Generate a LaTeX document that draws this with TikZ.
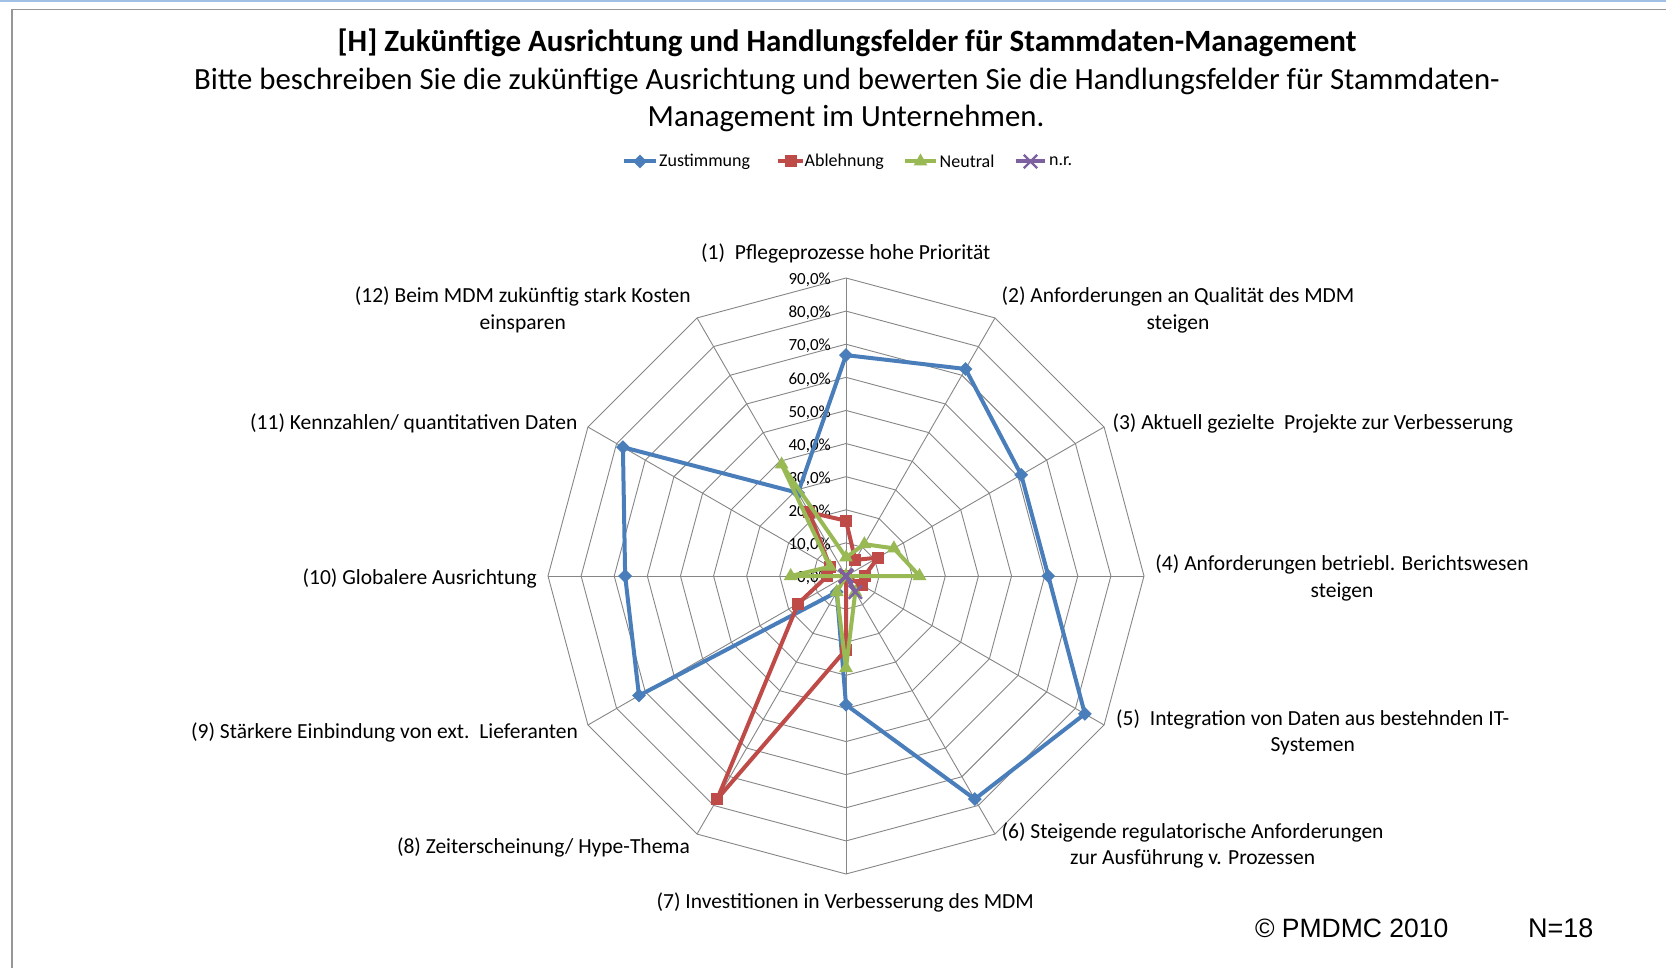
\documentclass[tikz,border=0pt]{standalone}
\usepackage{fontspec}
\setmainfont{Carlito}
\newfontfamily\arialf{Liberation Sans}
\usetikzlibrary{shapes.geometric,shapes.misc}
\definecolor{cblue}{RGB}{74,126,187}
\definecolor{cred}{RGB}{190,75,72}
\definecolor{cgreen}{RGB}{152,185,84}
\definecolor{cpurple}{RGB}{125,96,160}
\definecolor{gridgray}{RGB}{134,134,134}
\definecolor{framegray}{RGB}{150,150,150}
\definecolor{bandblue}{RGB}{160,192,230}
\begin{document}
\begin{tikzpicture}[x=1pt,y=1pt,
  gridline/.style={draw=gridgray, line width=0.9pt},
  bline/.style={draw=cblue, line width=4pt, line join=round},
  rline/.style={draw=cred, line width=4pt, line join=round},
  gline/.style={draw=cgreen, line width=4pt, line join=round},
  pline/.style={draw=cpurple, line width=4pt, line join=round},
  bmark/.style={diamond, fill=cblue, inner sep=0pt, minimum width=14pt, minimum height=14pt},
  rmark/.style={rectangle, fill=cred, inner sep=0pt, minimum size=12pt},
  gmark/.style={regular polygon, regular polygon sides=3, fill=cgreen, inner sep=0pt, minimum size=16pt},
  pmark/.style={cross out, draw=cpurple, line width=2.4pt, inner sep=0pt, minimum size=11pt},
  cat/.style={font=\fontsize{21.5}{26.6}\selectfont, align=center, inner sep=0pt},
  tick/.style={font=\fontsize{17}{19}\selectfont, inner sep=0pt, anchor=east},
  leg/.style={font=\fontsize{18}{20}\selectfont, inner sep=0pt, anchor=west},
]
\useasboundingbox (0,0) rectangle (1666,-968);
\fill[white] (0,0) rectangle (1666,-968);
% frame
\fill[bandblue] (0,0) rectangle (1666,-2);
\coordinate (fbl) at (12,-968);
\coordinate (ftl) at (12,-9.5);
\coordinate (ftr) at (1666,-9.5);
\draw[framegray, line width=1.3pt] (fbl) -- (ftl) -- (ftr);

% titles
\node[font=\bfseries\fontsize{31}{36}\selectfont, inner sep=0pt] (title) at (847,-42.5) {[H] Zukünftige Ausrichtung und Handlungsfelder für Stammdaten-Management};
\node[font=\fontsize{30.8}{36}\selectfont, inner sep=0pt] (sub1) at (847,-81) {Bitte beschreiben Sie die zukünftige Ausrichtung und bewerten Sie die Handlungsfelder für Stammdaten-};
\node[font=\fontsize{30.8}{36}\selectfont, inner sep=0pt] (sub2) at (846,-118.5) {Management im Unternehmen.};

% legend
\coordinate (lb1) at (624,-161.5); \coordinate (lb2) at (656,-161.5);
\draw[bline] (lb1) -- (lb2); \node[bmark] (lbm) at (640,-161.5) {};
\node[leg] (lbt) at (659,-161.5) {Zustimmung};
\coordinate (lr1) at (778,-161.5); \coordinate (lr2) at (803,-161.5);
\draw[rline] (lr1) -- (lr2); \node[rmark] (lrm) at (790.5,-161.5) {};
\node[leg] (lrt) at (804.5,-161.5) {Ablehnung};
\coordinate (lg1) at (905,-161.5); \coordinate (lg2) at (936,-161.5);
\draw[gline] (lg1) -- (lg2); \node[gmark] (lgm) at (920.5,-161.5) {};
\node[leg] (lgt) at (939.5,-161.5) {Neutral};
\coordinate (lp1) at (1016,-161.5); \coordinate (lp2) at (1045,-161.5);
\draw[pline] (lp1) -- (lp2); \node[pmark] (lpm) at (1030.5,-161.5) {};
\node[leg] (lpt) at (1049,-161.5) {n.r.};

% radar grid
\begin{scope}[shift={(846,-576)}]
  \coordinate (ctr) at (0,0);
  \foreach \k in {1,...,9} {
    \draw[gridline] (90:{\k*33.111}) \foreach \a in {1,...,11} { -- ({90-\a*30}:{\k*33.111}) } -- cycle;
  }
  \foreach \a in {0,...,11} {
    \coordinate (sp\a) at ({90-\a*30}:298);
    \draw[gridline] (ctr) -- (sp\a);
  }
  % data
  \foreach [count=\i] \v in {66.7,72.2,61.1,61.1,83.3,77.8,38.9,5.6,72.2,66.7,77.8,29.0}
    \coordinate (b\i) at ({90-(\i-1)*30}:{\v*3.3111});
  \foreach [count=\i] \v in {16.7,5.6,11.1,5.6,5.6,0,22.2,77.8,16.7,5.6,5.6,22.2}
    \coordinate (r\i) at ({90-(\i-1)*30}:{\v*3.3111});
  \foreach [count=\i] \v in {5.6,11.1,16.7,22.2,0,5.6,27.8,5.6,0,16.7,5.6,38.9}
    \coordinate (g\i) at ({90-(\i-1)*30}:{\v*3.3111});
  \foreach [count=\i] \v in {0,0,0,0,0,5.6,0,0,0,0,0,0}
    \coordinate (p\i) at ({90-(\i-1)*30}:{\v*3.3111});
\end{scope}

% tick labels
\foreach \k in {0,...,9} {
  \pgfmathtruncatemacro\pc{\k*10}
  \node[tick] (t\k) at (831,{-578+\k*33.111}) {\pc,0\%};
}

% series
\draw[bline] (b1) \foreach \i in {2,...,12} { -- (b\i) } -- cycle;
\foreach \i in {1,...,12} \node[bmark] (bm\i) at (b\i) {};
\draw[rline] (r1) \foreach \i in {2,...,12} { -- (r\i) } -- cycle;
\foreach \i in {1,...,12} \node[rmark] (rm\i) at (r\i) {};
\draw[gline] (g1) \foreach \i in {2,...,12} { -- (g\i) } -- cycle;
\foreach \i in {1,...,12} \node[gmark] (gm\i) at (g\i) {};
\draw[pline] (p1) \foreach \i in {2,...,12} { -- (p\i) } -- cycle;
\foreach \i in {1,...,12} \node[pmark] (pm\i) at (p\i) {};

% category labels
\node[cat] (c1) at (845.8,-253) {(1)\ \ Pflegeprozesse hohe Priorität};
\node[cat] (c2) at (1178,-310) {(2) Anforderungen an Qualität des MDM\\steigen};
\node[cat] (c3) at (1312.7,-423) {(3) Aktuell gezielte\ \ Projekte zur Verbesserung};
\node[cat] (c4) at (1342,-578) {(4) Anforderungen betriebl. Berichtswesen\\steigen};
\node[cat] (c5) at (1312.7,-732.5) {(5)\ \ Integration von Daten aus bestehnden IT-\\Systemen};
\node[cat] (c6) at (1192.6,-845.5) {(6) Steigende regulatorische Anforderungen\\zur Ausführung v. Prozessen};
\node[cat] (c7) at (845.2,-902) {(7) Investitionen in Verbesserung des MDM};
\node[cat] (c8) at (543.5,-847) {(8) Zeiterscheinung/ Hype-Thema};
\node[cat] (c9) at (384.6,-732) {(9) Stärkere Einbindung von ext.\ \ Lieferanten};
\node[cat] (c10) at (419.7,-578) {(10) Globalere Ausrichtung};
\node[cat] (c11) at (413.8,-423) {(11) Kennzahlen/ quantitativen Daten};
\node[cat] (c12) at (522.75,-310) {(12) Beim MDM zukünftig stark Kosten\\einsparen};

% footer
\node[font=\arialf\fontsize{26.5}{30}\selectfont, inner sep=0pt, anchor=west] (copy) at (1254.8,-928) {© PMDMC 2010};
\node[font=\arialf\fontsize{27}{30}\selectfont, inner sep=0pt, anchor=west] (nn) at (1528,-928) {N=18};
\end{tikzpicture}
\end{document}
